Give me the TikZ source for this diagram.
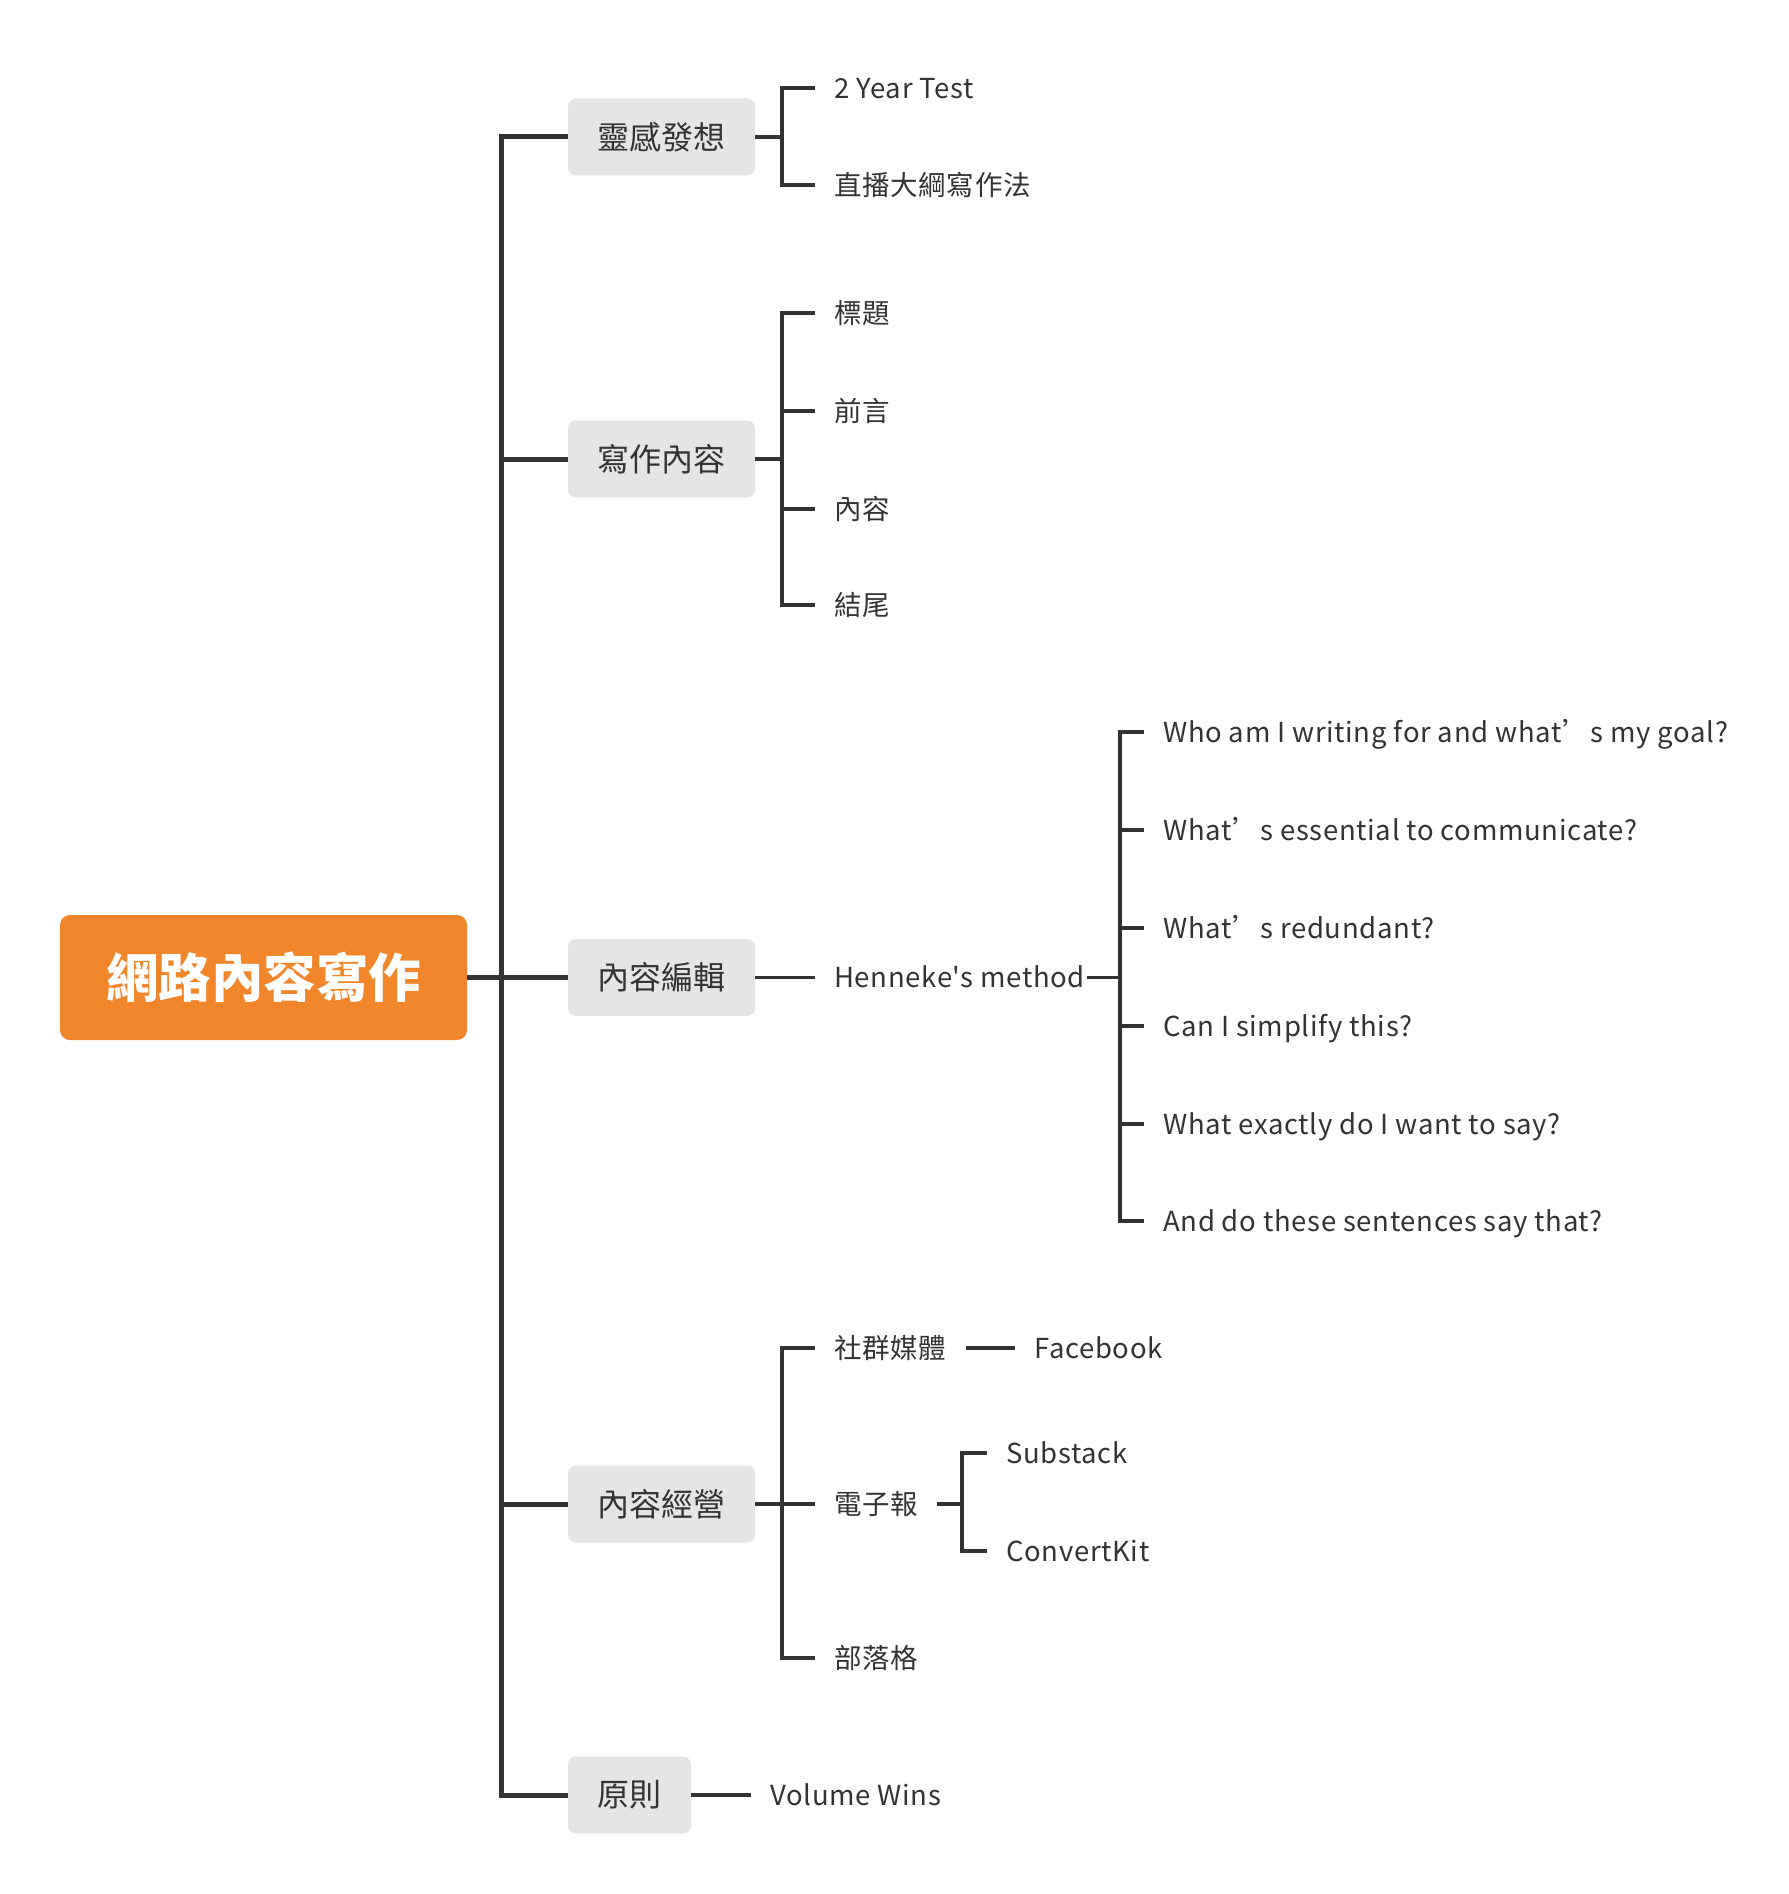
\documentclass[tikz,border=0pt]{standalone}
\usepackage{fontspec}
\setmainfont{Noto Sans CJK TC}
\newfontfamily\leaffont[LetterSpace=2.5]{Noto Sans CJK TC}
\definecolor{orangec}{HTML}{F0852A}
\definecolor{grayc}{HTML}{E5E5E5}
\definecolor{linec}{HTML}{333333}
\begin{document}
\begin{tikzpicture}[x=1pt,y=-1pt,
  rootbox/.style={fill=orangec, rounded corners=10pt, minimum width=407pt, minimum height=125pt,
     text=white, font=\fontsize{52.5}{58}\selectfont\bfseries, inner sep=0pt},
  topicbox/.style={fill=grayc, rounded corners=8pt, minimum height=77pt, text=linec,
     font=\fontsize{32}{38}\selectfont, inner sep=0pt},
  leaf/.style={anchor=west, inner sep=0pt, text=linec, font=\leaffont\fontsize{27.5}{33}\selectfont,
     text height=24.2pt, text depth=3.3pt},
  trunk/.style={draw=linec, line width=5pt, line join=miter},
  twig/.style={draw=linec, line width=3.6pt, line join=miter}]
\useasboundingbox[fill=white] (0,0) rectangle (1788,1894);

% root and topics
\node[rootbox] (root) at (263.5,977.5) {網路內容寫作};
\node[topicbox, minimum width=187pt] (n1) at (661.5,137) {靈感發想};
\node[topicbox, minimum width=187pt] (n2) at (661.5,459) {寫作內容};
\node[topicbox, minimum width=187pt] (n3) at (661.5,977.5) {內容編輯};
\node[topicbox, minimum width=187pt] (n4) at (661.5,1504) {內容經營};
\node[topicbox, minimum width=123pt] (n5) at (629.5,1795) {原則};

\coordinate (t1) at (501,137);
\coordinate (t5) at (501,1795);
\draw[trunk] (n1.west) -- (t1) -- (t5) -- (n5.west);
\draw[trunk] (n2.west -| t1) -- (n2.west);
\draw[trunk] (root.east) -- (n3.west);
\draw[trunk] (n4.west -| t1) -- (n4.west);

% topic 1
\node[leaf] (a1) at (834,88) {2 Year Test};
\node[leaf] (a2) at (834,185) {直播大綱寫作法};
\coordinate (b1) at (782,137);
\draw[twig] (n1.east) -- (b1);
\draw[twig] ([xshift=-19pt]a1.west) -- (a1.west -| b1) -- (a2.west -| b1) -- ([xshift=-19pt]a2.west);

% topic 2
\node[leaf] (c1) at (834,313) {標題};
\node[leaf] (c2) at (834,411) {前言};
\node[leaf] (c3) at (834,509) {內容};
\node[leaf] (c4) at (834,605) {結尾};
\coordinate (b2) at (782,459);
\draw[twig] (n2.east) -- (b2);
\draw[twig] ([xshift=-19pt]c1.west) -- (c1.west -| b2) -- (c4.west -| b2) -- ([xshift=-19pt]c4.west);
\draw[twig] (c2.west -| b2) -- ([xshift=-19pt]c2.west);
\draw[twig] (c3.west -| b2) -- ([xshift=-19pt]c3.west);

% topic 3
\node[leaf] (h) at (834,977.5) {Henneke\symbol{"27}s method};
\draw[twig] (n3.east) -- ([xshift=-19pt]h.west);
\coordinate (b3) at (1120,977.5);
\draw[twig] ([xshift=2pt]h.east) -- (b3);
\node[leaf] (q1) at (1163,732) {Who am I writing for and what’s my goal?};
\node[leaf] (q2) at (1163,830) {What’s essential to communicate?};
\node[leaf] (q3) at (1163,928) {What’s redundant?};
\node[leaf] (q4) at (1163,1026) {Can I simplify this?};
\node[leaf] (q5) at (1163,1124) {What exactly do I want to say?};
\node[leaf] (q6) at (1163,1221) {And do these sentences say that?};
\draw[twig] ([xshift=-19pt]q1.west) -- (q1.west -| b3) -- (q6.west -| b3) -- ([xshift=-19pt]q6.west);
\foreach \q in {q2,q3,q4,q5}{\draw[twig] (\q.west -| b3) -- ([xshift=-19pt]\q.west);}

% topic 4
\node[leaf] (d1) at (834,1348) {社群媒體};
\node[leaf] (d2) at (834,1504) {電子報};
\node[leaf] (d3) at (834,1658) {部落格};
\coordinate (b4) at (782,1504);
\draw[twig] (n4.east) -- (b4);
\draw[twig] ([xshift=-19pt]d1.west) -- (d1.west -| b4) -- (d3.west -| b4) -- ([xshift=-19pt]d3.west);
\draw[twig] (b4) -- ([xshift=-19pt]d2.west);
\node[leaf] (fb) at (1034,1348) {Facebook};
\draw[twig] ([xshift=20pt]d1.east) -- ([xshift=-19pt]fb.west);
\node[leaf] (s1) at (1006,1453) {Substack};
\node[leaf] (s2) at (1006,1551) {ConvertKit};
\coordinate (b5) at (962,1504);
\draw[twig] ([xshift=19pt]d2.east) -- (b5);
\draw[twig] ([xshift=-19pt]s1.west) -- (s1.west -| b5) -- (s2.west -| b5) -- ([xshift=-19pt]s2.west);

% topic 5
\node[leaf] (v) at (770,1795) {Volume Wins};
\draw[twig] (n5.east) -- ([xshift=-19pt]v.west);
\end{tikzpicture}
\end{document}
